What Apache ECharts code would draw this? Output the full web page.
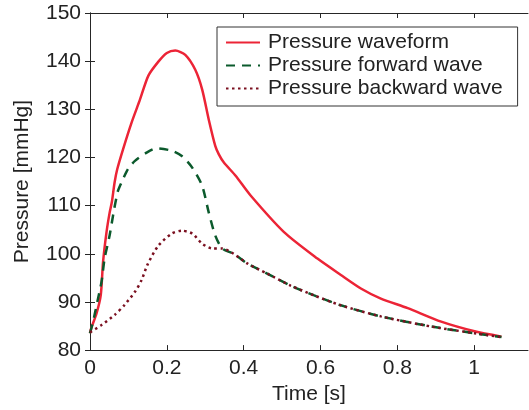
<!DOCTYPE html>
<html>
<head>
<meta charset="utf-8">
<script src="https://cdn.jsdelivr.net/npm/echarts@6/dist/echarts.min.js"></script>
<style>
html, body { margin: 0; padding: 0; background: #fff; }
#chart { width: 529px; height: 410px; }
</style>
</head>
<body>
<div id="chart"></div>
<script>
// pressure waveform (red)
let tWave = [0, 0.003, 0.017, 0.028, 0.034, 0.043, 0.051, 0.057, 0.064, 0.071, 0.086, 0.108, 0.130, 0.152, 0.178, 0.2, 0.222, 0.248, 0.274, 0.292, 0.309, 0.326, 0.335, 0.348, 0.379, 0.418, 0.505, 0.592, 0.653, 0.705, 0.757, 0.827, 0.914, 1.001, 1.071]
let pWave = [83.5, 84.5, 87.6, 91.4, 98.3, 104.5, 108.5, 110.8, 114.8, 117.6, 121.7, 127.2, 132.0, 137.0, 139.9, 141.7, 142.2, 141.3, 138.2, 134.1, 127.9, 122.4, 120.7, 119.0, 116.2, 112.1, 104.5, 99.0, 95.6, 92.8, 90.7, 88.7, 85.9, 83.9, 82.8]
// forward wave (green dashed)
let tFwd = [0, 0.008, 0.019, 0.030, 0.038, 0.051, 0.063, 0.073, 0.082, 0.099, 0.117, 0.147, 0.173, 0.213, 0.239, 0.266, 0.292, 0.309, 0.326, 0.344, 0.374, 0.409, 0.461, 0.522, 0.582, 0.653, 0.757, 0.888, 1.001, 1.071]
let pFwd = [83.5, 85.9, 90.0, 94.2, 99.0, 103.8, 109.3, 113.1, 114.8, 117.6, 119.3, 121.0, 121.9, 121.4, 120.3, 117.9, 114.1, 108.6, 103.8, 101.1, 100.0, 98.0, 95.9, 93.4, 91.4, 89.3, 87.0, 84.9, 83.5, 82.7]
// backward wave (maroon dotted)
let tBwd = [0, 0.03, 0.064, 0.09, 0.117, 0.134, 0.15, 0.178, 0.213, 0.239, 0.266, 0.292, 0.318, 0.344, 0.374, 0.409, 0.461, 0.522, 0.582, 0.653, 0.757, 0.888, 1.001, 1.071]
let pBwd = [83.7, 85.2, 87.3, 89.4, 92.1, 94.5, 97.8, 101.7, 104.2, 104.8, 104.2, 102.1, 101.1, 101.1, 100.0, 98.0, 95.9, 93.4, 91.4, 89.3, 87.0, 84.9, 83.5, 82.7]

let xTicks = [0, 0.2, 0.4, 0.6, 0.8, 1]
let yTicks = [80, 90, 100, 110, 120, 130, 140, 150]
let seriesNames = ['Pressure waveform', 'Pressure forward wave', 'Pressure backward wave']

function zip(ts, ps) {
    let out = []
    for (let i = 0; i < ts.length; i++) out.push([ts[i], ps[i]])
    return out
}

let myChart = echarts.init(document.getElementById('chart'))
let font = 'Liberation Sans, Arial, sans-serif'
let axisColor = '#262626'
let textColor = '#222'
let tick = { show: true, inside: true, length: 5, lineStyle: { color: axisColor } }

let option = {
    animation: false,
    grid: { left: 90, right: 1, top: 13, bottom: 58 },
    legend: {
        orient: 'vertical',
        left: 217, top: 27,
        padding: [4, 15, 6, 8],
        itemGap: 0,
        itemWidth: 34,
        itemHeight: 14,
        borderColor: '#333',
        borderWidth: 1,
        itemStyle: { opacity: 0 },
        textStyle: { fontFamily: font, fontSize: 21, color: textColor, lineHeight: 23, padding: [0, 0, 0, 3] },
        data: seriesNames
    },
    xAxis: [{
        type: 'value', min: 0, max: 1.14,
        name: 'Time [s]', nameLocation: 'middle', nameGap: 33,
        nameTextStyle: { fontFamily: font, fontSize: 21, color: textColor },
        axisLine: { show: true, lineStyle: { color: axisColor } },
        axisTick: Object.assign({ customValues: xTicks }, tick),
        axisLabel: { customValues: xTicks, fontFamily: font, fontSize: 21, color: textColor, margin: 8,
            formatter: v => String(Math.round(v * 10) / 10) },
        splitLine: { show: false }
    }, {
        type: 'value', min: 0, max: 1.14, position: 'top',
        axisLine: { show: true, lineStyle: { color: axisColor } },
        axisTick: Object.assign({ customValues: xTicks }, tick),
        axisLabel: { show: false },
        splitLine: { show: false }
    }],
    yAxis: [{
        type: 'value', min: 80, max: 150, interval: 10,
        name: 'Pressure [mmHg]', nameLocation: 'middle', nameGap: 57,
        nameTextStyle: { fontFamily: font, fontSize: 21, color: textColor },
        axisLine: { show: true, lineStyle: { color: axisColor } },
        axisTick: Object.assign({ customValues: yTicks }, tick),
        axisLabel: { customValues: yTicks, fontFamily: font, fontSize: 21, color: textColor, margin: 9 },
        splitLine: { show: false }
    }, {
        type: 'value', min: 80, max: 150, interval: 10, position: 'right',
        axisLine: { show: true, lineStyle: { color: axisColor } },
        axisTick: Object.assign({ customValues: yTicks }, tick),
        axisLabel: { show: false },
        splitLine: { show: false }
    }],
    series: [{
        name: seriesNames[0], type: 'line', showSymbol: false, symbol: 'none',
        smooth: 0.25,
        lineStyle: { color: '#ec2436', width: 2.5 },
        itemStyle: { color: '#ec2436' },
        data: zip(tWave, pWave)
    }, {
        name: seriesNames[1], type: 'line', showSymbol: false, symbol: 'none',
        smooth: 0.25,
        lineStyle: { color: '#0b5a2c', width: 2.5, type: [9, 7] },
        itemStyle: { color: '#0b5a2c' },
        data: zip(tFwd, pFwd)
    }, {
        name: seriesNames[2], type: 'line', showSymbol: false, symbol: 'none',
        smooth: 0.25,
        lineStyle: { color: '#7b1020', width: 2.5, type: [2.5, 3.5] },
        itemStyle: { color: '#7b1020' },
        data: zip(tBwd, pBwd)
    }]
}
myChart.setOption(option)
window.addEventListener('resize', function () {
    myChart.resize()
})
</script>
</body>
</html>
